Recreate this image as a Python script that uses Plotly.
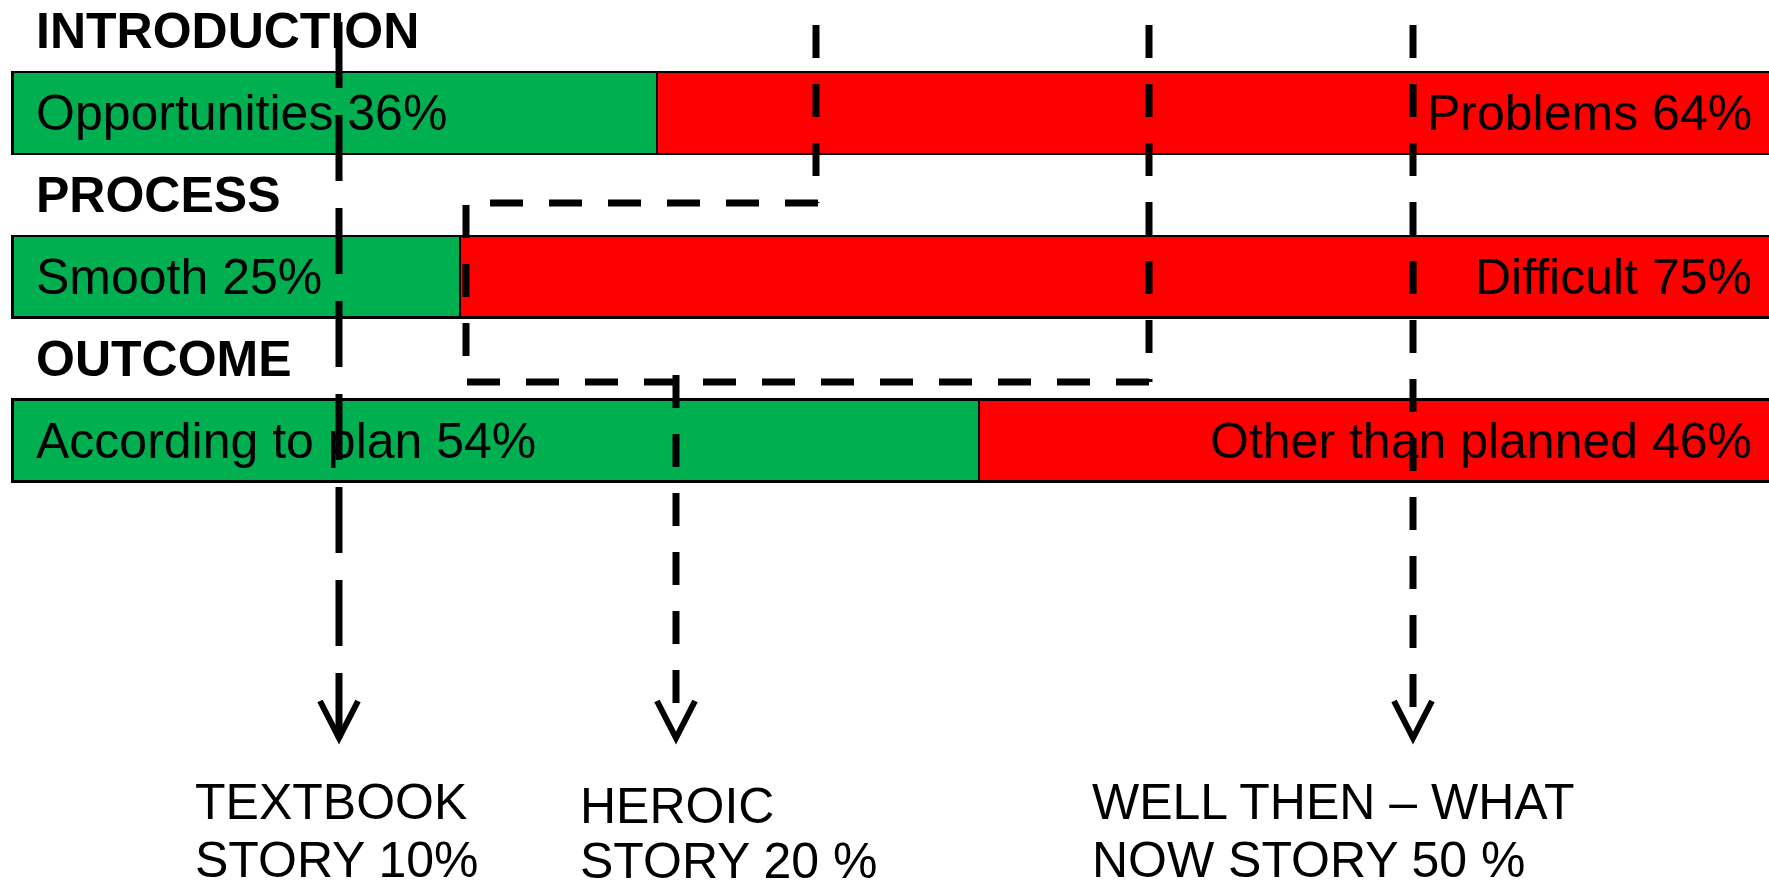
import plotly.graph_objects as go

# ---- data ----
stages = ["INTRODUCTION", "PROCESS", "OUTCOME"]
pos_labels = ["Opportunities", "Smooth", "According to plan"]
pos_values = [36, 25, 54]
neg_labels = ["Problems", "Difficult", "Other than planned"]
neg_values = [64, 75, 46]
story_line1 = ["TEXTBOOK", "HEROIC", "WELL THEN – WHAT"]
story_line2 = ["STORY 10%", "STORY 20 %", "NOW STORY 50 %"]

# ---- layout constants ----
W, H = 1769, 890
GREEN = "#00B050"
RED = "#FF0000"
FONT = "Liberation Sans, Arial, sans-serif"
FS = 50


def px(x):
    return x / W


def py(y):
    return 1 - y / H


fig = go.Figure()
fig.add_trace(go.Bar(
    y=stages, x=pos_values, orientation="h", width=0.5,
    marker=dict(color=GREEN, line=dict(color="black", width=2.5)),
    hoverinfo="skip", showlegend=False,
))
fig.add_trace(go.Bar(
    y=stages, x=neg_values, orientation="h", width=0.5,
    marker=dict(color=RED, line=dict(color="black", width=2.5)),
    hoverinfo="skip", showlegend=False,
))

annotations = []
for i, st in enumerate(stages):
    annotations.append(dict(
        x=px(34), xref="paper", xanchor="left",
        y=i - 0.5, yref="y", yanchor="middle",
        text="<b>%s</b>" % st, showarrow=False,
        font=dict(family=FONT, size=FS, color="black")))
    annotations.append(dict(
        x=px(34), xref="paper", xanchor="left",
        y=st, yref="y", yanchor="middle",
        text="%s %d%%" % (pos_labels[i], pos_values[i]), showarrow=False,
        font=dict(family=FONT, size=FS, color="black")))
    annotations.append(dict(
        x=px(1754), xref="paper", xanchor="right",
        y=st, yref="y", yanchor="middle",
        text="%s %d%%" % (neg_labels[i], neg_values[i]), showarrow=False,
        font=dict(family=FONT, size=FS, color="black")))

story_x = [194, 579, 1091]
story_y1 = [802, 806, 802]
story_y2 = [860, 861, 860]
for i in range(3):
    for txt, yy in ((story_line1[i], story_y1[i]), (story_line2[i], story_y2[i])):
        annotations.append(dict(
            x=px(story_x[i]), xref="paper", xanchor="left",
            y=py(yy), yref="paper", yanchor="middle",
            text=txt, showarrow=False, borderpad=0,
            font=dict(family=FONT, size=FS, color="black")))

# ---- dashed connectors (decoration) ----
LW = 7
short = "33px,26px"
long_ = "66px,27px"
segments = [
    (339, 22, 339, 738, long_),      # textbook
    (816, 25, 816, 203, short),      # intro problems -> process smooth
    (818, 203, 490, 203, short),
    (466, 205, 466, 382, short),
    (467, 382, 1153, 382, short),
    (1149, 25, 1149, 382, short),
    (676, 375, 676, 703, short),     # heroic
    (1413, 25, 1413, 707, short),    # well then
]
shapes = []
for x0, y0, x1, y1, d in segments:
    shapes.append(dict(type="line", xref="paper", yref="paper",
                       x0=px(x0), y0=py(y0), x1=px(x1), y1=py(y1),
                       line=dict(color="black", width=LW, dash=d)))
for ax in (339, 676, 1413):
    path = "M %f,%f L %f,%f L %f,%f" % (px(ax - 19), py(701), px(ax), py(738), px(ax + 19), py(701))
    shapes.append(dict(type="path", xref="paper", yref="paper", path=path,
                       line=dict(color="black", width=6)))

S = 17.9
x0 = -12.5 / S
fig.update_layout(
    width=W, height=H,
    margin=dict(l=0, r=0, t=0, b=0),
    barmode="stack",
    paper_bgcolor="white", plot_bgcolor="white",
    xaxis=dict(range=[x0, x0 + W / S], visible=False, fixedrange=True),
    yaxis=dict(type="category", categoryorder="array", categoryarray=stages,
               range=[(H - 113) / 163.75, -113 / 163.75], visible=False, fixedrange=True),
    annotations=annotations,
    shapes=shapes,
)

fig.write_html("out.html", config={"displayModeBar": False},
               post_script="document.body.style.margin='0';document.body.style.overflow='hidden';")
